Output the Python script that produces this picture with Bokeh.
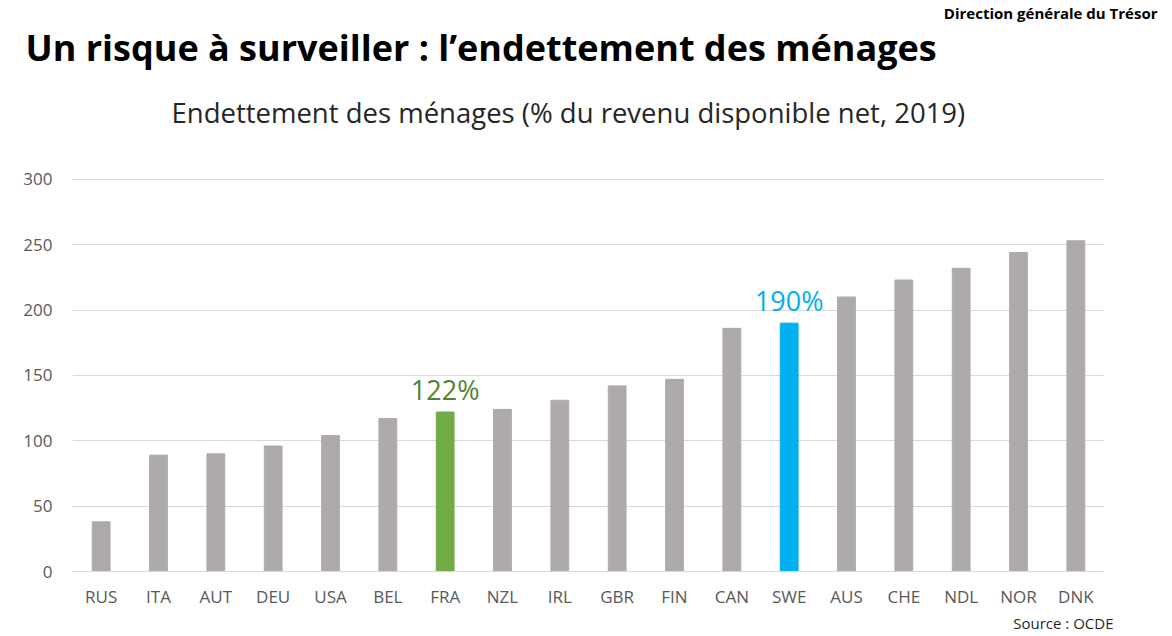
from bokeh.plotting import figure
from bokeh.models import ColumnDataSource, FactorRange, Range1d, SingleIntervalTicker, Title, LabelSet
from bokeh.core.properties import value
from bokeh.embed import file_html
from bokeh.resources import INLINE

countries = ["RUS", "ITA", "AUT", "DEU", "USA", "BEL", "FRA", "NZL", "IRL", "GBR",
             "FIN", "CAN", "SWE", "AUS", "CHE", "NDL", "NOR", "DNK"]
debt = [38, 89, 90, 96, 104, 117, 122, 124, 131, 142, 147, 186, 190, 210, 223, 232, 244, 253]
highlight_bar = {"FRA": "#70AD47", "SWE": "#00B0F0"}
highlight_text = {"FRA": "#548235", "SWE": "#00B0F0"}
grey = "#AEAAAA"

colors = [highlight_bar.get(c, grey) for c in countries]
src = ColumnDataSource(dict(x=countries, y=debt, color=colors))
hl_idx = [i for i, c in enumerate(countries) if c in highlight_bar]
lab_src = ColumnDataSource(dict(
    x=[countries[i] for i in hl_idx],
    y=[debt[i] for i in hl_idx],
    t=[f"{debt[i]}%" for i in hl_idx],
    color=[highlight_text[countries[i]] for i in hl_idx],
))

W, H = 1172, 636
Y_TOP = 323.6  # headroom above the 300 gridline (empty frame area)
p = figure(width=W, height=H, x_range=FactorRange(*countries), y_range=Range1d(0, Y_TOP),
           output_backend="svg", toolbar_location=None, title=None,
           min_border_left=72, min_border_right=68, min_border_top=0, min_border_bottom=0)
p.outline_line_color = None
p.background_fill_color = "white"
p.border_fill_color = "white"

p.vbar(x="x", top="y", width=0.31, color="color", source=src)
p.add_layout(LabelSet(x="x", y="y", text="t", text_color="color", source=lab_src,
                      text_font=value("Open Sans"), text_font_size="27px",
                      text_align="center", text_baseline="alphabetic", y_offset=12))

p.x_range.range_padding = 0
p.xgrid.grid_line_color = None
p.ygrid.grid_line_color = "#D9D9D9"
p.ygrid.grid_line_width = 1
p.yaxis.ticker = SingleIntervalTicker(interval=50)
p.yaxis.axis_line_color = None
p.yaxis.major_tick_line_color = None
p.yaxis.minor_tick_line_color = None
p.yaxis.major_tick_out = 0
p.yaxis.major_tick_in = 0
p.yaxis.major_label_text_font = "Open Sans"
p.yaxis.major_label_text_font_size = "17px"
p.yaxis.major_label_text_color = "#595959"
p.yaxis.major_label_standoff = 16

p.xaxis.axis_line_color = "#D9D9D9"
p.xaxis.major_tick_line_color = None
p.xaxis.minor_tick_line_color = None
p.xaxis.major_label_text_font = "Open Sans"
p.xaxis.major_label_text_font_size = "17px"
p.xaxis.major_label_text_color = "#595959"
p.xaxis.major_label_standoff = 7

# Texts as titles in side panels
sub = Title(text="Endettement des ménages (% du revenu disponible net, 2019)",
            align="left", offset=99, standoff=36, vertical_align="bottom",
            text_font="Open Sans", text_font_style="normal", text_font_size="27.5px",
            text_color="#262626")
main = Title(text="Un risque à surveiller : l’endettement des ménages",
             align="left", offset=-47, standoff=0, vertical_align="top",
             text_font="Open Sans", text_font_style="bold", text_font_size="36px",
             text_color="#000000")
org = Title(text="Direction générale du Trésor", align="right", offset=-53, standoff=0,
            text_font="Open Sans", text_font_style="bold", text_font_size="15px",
            text_color="#000000")
src_t = Title(text="Source : OCDE", align="right", offset=-9, standoff=4, vertical_align="top",
              text_font="Open Sans", text_font_style="normal", text_font_size="15px",
              text_color="#262626")
p.add_layout(sub, "above")
p.add_layout(main, "above")
p.add_layout(org, "above")
p.add_layout(src_t, "below")

open("out.html", "w").write(file_html(p, INLINE))
